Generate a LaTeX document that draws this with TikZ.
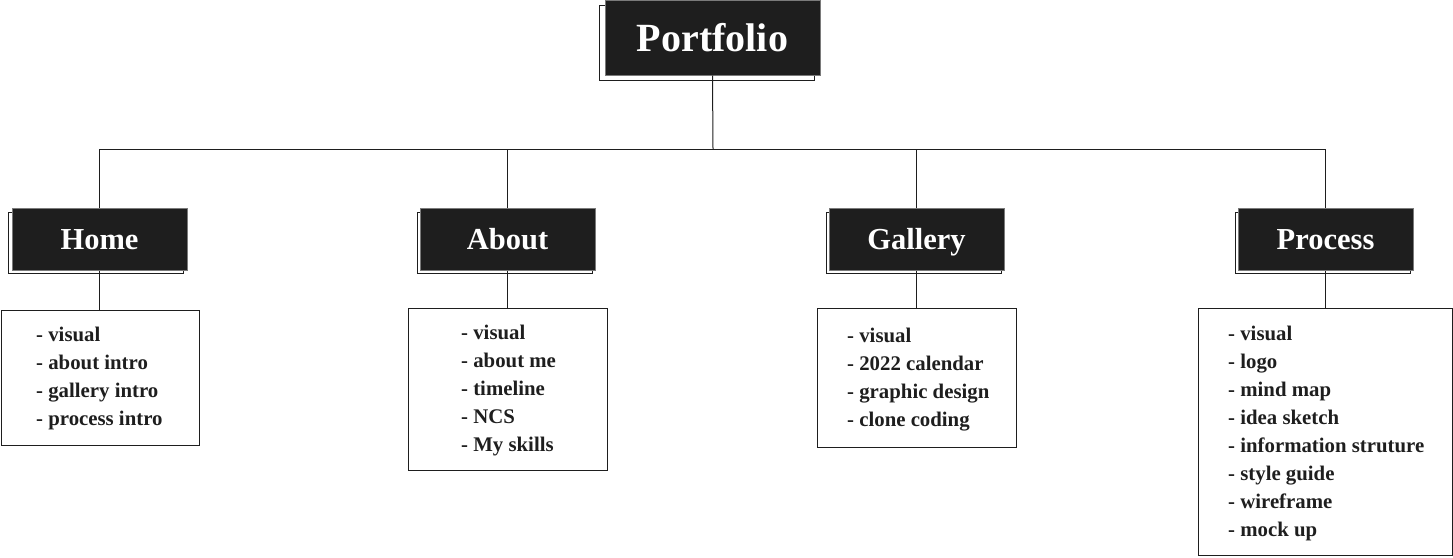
\documentclass[tikz,border=0pt]{standalone}
\usepackage{fontspec}
\setmainfont{Liberation Serif}
\definecolor{boxfill}{HTML}{1E1E1E}
\definecolor{boxedge}{HTML}{7A7A7A}
\definecolor{ink}{HTML}{1E1E1E}
\tikzset{
  titlebox/.style={draw=boxedge, line width=1pt, fill=boxfill, text=white,
    minimum width=175pt, minimum height=62pt, inner sep=0pt,
    font=\fontsize{30.5}{30}\selectfont\bfseries, text height=20pt, text depth=0pt},
  shadowbox/.style={draw=ink, line width=1pt, minimum width=175pt, minimum height=61pt, inner sep=0pt},
  listbox/.style={draw=ink, line width=1pt, inner sep=0pt, anchor=north west},
  listtext/.style={anchor=north west, inner sep=0pt, align=left, text=ink,
    font=\fontsize{20.8}{28}\selectfont\bfseries},
  link/.style={draw=ink, line width=1pt}
}
\newcommand{\firstline}{\rule{0pt}{20pt}}
\begin{document}
\begin{tikzpicture}[x=1pt,y=1pt]
\useasboundingbox (0,0) rectangle (1453,-557);
% Portfolio
\node[shadowbox, minimum width=215pt, minimum height=75pt] (portshadow) at (706.5,-42.5) {};
\node[titlebox, minimum width=215pt, minimum height=75pt, font=\fontsize{40}{40}\selectfont\bfseries, text height=27pt] (port) at (712.5,-37.5) {Portfolio};
% Title boxes
\node[shadowbox] (homeshadow) at (95.5,-242.5) {};
\node[titlebox] (home) at (99.5,-239.5) {Home};
\node[shadowbox] (aboutshadow) at (504.5,-242.5) {};
\node[titlebox] (about) at (507.5,-239.5) {About};
\node[shadowbox] (galleryshadow) at (914,-242.5) {};
\node[titlebox] (gallery) at (916.5,-239.5) {Gallery};
\node[shadowbox] (processshadow) at (1322.5,-242.5) {};
\node[titlebox] (process) at (1325.5,-239.5) {Process};
% List boxes
\node[listbox, minimum width=198pt, minimum height=135pt] (homelist) at (1,-310) {};
\node[listbox, minimum width=199pt, minimum height=162pt] (aboutlist) at (408,-308) {};
\node[listbox, minimum width=199pt, minimum height=139pt] (gallerylist) at (817,-308) {};
\node[listbox, minimum width=254pt, minimum height=247pt] (processlist) at (1198,-308) {};
% List texts
\node[listtext] (hometext) at (36,-321) {\firstline- visual\\- about intro\\- gallery intro\\- process intro};
\node[listtext] (abouttext) at (461,-319) {\firstline- visual\\- about me\\- timeline\\- NCS\\- My skills};
\node[listtext] (gallerytext) at (847,-322) {\firstline- visual\\- 2022 calendar\\- graphic design\\- clone coding};
\node[listtext] (processtext) at (1228,-320) {\firstline- visual\\- logo\\- mind map\\- idea sketch\\- information struture\\- style guide\\- wireframe\\- mock up};
% Connectors
\coordinate (bus) at (713,-149);
\draw[link] (port.south) -- (bus);
\draw[link] (bus) -| (home.north);
\draw[link] (bus) -| (about.north);
\draw[link] (bus) -| (gallery.north);
\draw[link] (bus) -| (process.north);
\draw[link] (home.south) -- (home.south |- homelist.north);
\draw[link] (about.south) -- (about.south |- aboutlist.north);
\draw[link] (gallery.south) -- (gallery.south |- gallerylist.north);
\draw[link] (process.south) -- (process.south |- processlist.north);
\end{tikzpicture}
\end{document}
